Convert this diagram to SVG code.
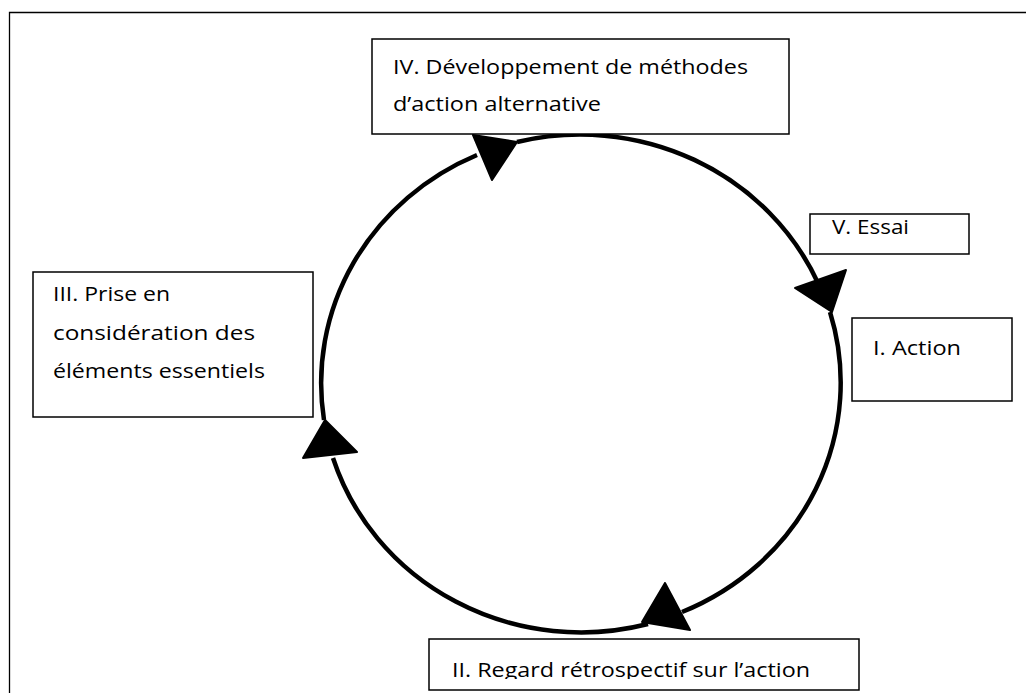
<svg xmlns="http://www.w3.org/2000/svg" width="1026" height="693" viewBox="0 0 1026 693">
<style>
.box{fill:#fff;stroke:#000;stroke-width:1.5}
.arc{fill:none;stroke:#000;stroke-width:4.5}
.head{fill:#000;stroke:#000;stroke-width:2;stroke-linejoin:round}
.t{font-family:"Open Sans","Liberation Sans",sans-serif;font-size:20.5px;fill:#000}
</style>
<defs>
<clipPath id="clipII"><rect x="429" y="639" width="431" height="40"/></clipPath>
</defs>
<rect width="1026" height="693" fill="#fff"/>
<path d="M9.5 693 V12.5 H1026" fill="none" stroke="#000" stroke-width="1.3"/>
<g id="connectors">
<path class="arc" d="M517 142 A260 249 0 0 1 818 283"/>
<path class="arc" d="M830 312 A260 249 0 0 1 682 612"/>
<path class="arc" d="M648 624 A260 249 0 0 1 333 458"/>
<path class="arc" d="M324 420 A260 249 0 0 1 477 155"/>
<polygon class="head" points="473,135 517,142 492,180"/>
<polygon class="head" points="795,288 846,270 832,312"/>
<polygon class="head" points="665,583 642,622 690,630"/>
<polygon class="head" points="325,420 303,458 357,452"/>
</g>
<g id="node-IV">
<rect class="box" x="372" y="39" width="417" height="95"/>
<text class="t" x="393" y="74" textLength="355" lengthAdjust="spacingAndGlyphs">IV. Développement de méthodes</text>
<text class="t" x="393" y="111" textLength="208" lengthAdjust="spacingAndGlyphs">d’action alternative</text>
</g>
<g id="node-V">
<rect class="box" x="810" y="214" width="159" height="40"/>
<text class="t" x="832" y="234" textLength="77" lengthAdjust="spacingAndGlyphs">V. Essai</text>
</g>
<g id="node-I">
<rect class="box" x="852" y="318" width="160" height="83"/>
<text class="t" x="873" y="355" textLength="88" lengthAdjust="spacingAndGlyphs">I. Action</text>
</g>
<g id="node-III">
<rect class="box" x="33" y="272" width="280" height="145"/>
<text class="t" x="53" y="301" textLength="117" lengthAdjust="spacingAndGlyphs">III. Prise en</text>
<text class="t" x="53" y="340" textLength="202" lengthAdjust="spacingAndGlyphs">considération des</text>
<text class="t" x="53" y="378" textLength="212" lengthAdjust="spacingAndGlyphs">éléments essentiels</text>
</g>
<g id="node-II">
<rect class="box" x="429" y="639" width="430" height="51"/>
<text class="t" x="452" y="677" textLength="358" lengthAdjust="spacingAndGlyphs" clip-path="url(#clipII)">II. Regard rétrospectif sur l’action</text>
</g>
</svg>
